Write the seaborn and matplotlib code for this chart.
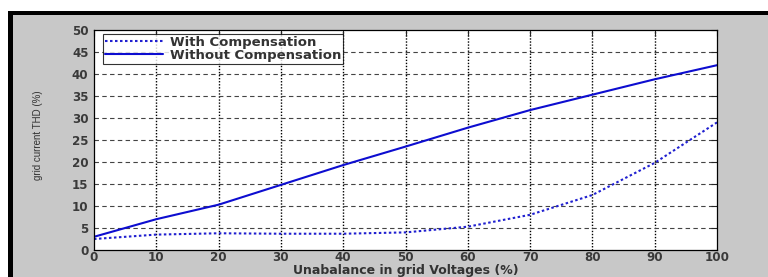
import matplotlib
matplotlib.use('Agg')
import matplotlib.pyplot as plt
import seaborn as sb
import pandas as pd
from matplotlib.patches import Rectangle

# values
unbalance = [0, 10, 20, 30, 40, 50, 60, 70, 80, 90, 100]
thd_with = [2.5, 3.5, 3.8, 3.7, 3.7, 4.0, 5.3, 8.0, 12.5, 19.8, 29.0]
thd_without = [3.0, 7.0, 10.3, 14.8, 19.3, 23.5, 27.8, 31.8, 35.3, 38.8, 42.0]
x_ticks = [0, 10, 20, 30, 40, 50, 60, 70, 80, 90, 100]
y_ticks = [0, 5, 10, 15, 20, 25, 30, 35, 40, 45, 50]

df = pd.DataFrame({'x': unbalance, 'with': thd_with, 'without': thd_without})

sb.set_style('white')
plt.rcParams['font.family'] = ['DejaVu Sans']

fig = plt.figure(figsize=(7.68, 2.77), dpi=100, facecolor='white')

# grey panel with black frame at top and left (behind the axes)
fig.patches.append(Rectangle((13/768, 0), 1, (277-15)/277, transform=fig.transFigure,
                             facecolor='#c8c8c8', edgecolor='none', zorder=-3))
fig.patches.append(Rectangle((8/768, (277-15)/277), 1, 4/277, transform=fig.transFigure,
                             facecolor='black', edgecolor='none', zorder=-2))
fig.patches.append(Rectangle((8/768, 0), 5/768, (277-11)/277, transform=fig.transFigure,
                             facecolor='black', edgecolor='none', zorder=-2))

ax = fig.add_axes([94/768, (277-250)/277, 623/768, 220/277])
ax.set_facecolor('white')

sb.lineplot(data=df, x='x', y='with', ax=ax, color='#2020d0', linestyle=(0, (1.2, 1.2)),
            linewidth=1.5, label='With Compensation')
sb.lineplot(data=df, x='x', y='without', ax=ax, color='#0d0dd0', linestyle='-', linewidth=1.5,
            label='Without Compensation')

ax.set_xlim(0, 100)
ax.set_ylim(0, 50)
ax.set_xticks(x_ticks)
ax.set_yticks(y_ticks)
for t in x_ticks[1:-1]:
    ax.axvline(t, color='black', linestyle=(0, (1, 1.2)), linewidth=1.0, zorder=0.5)
for t in y_ticks[1:-1]:
    ax.axhline(t, color='#444444', linestyle=(0, (4, 3)), linewidth=0.8, zorder=0.5)

ax.tick_params(direction='in', length=4, top=True, right=True, labelsize=8.6,
               labelcolor='#3a3a3a', width=0.8)
ax.tick_params(axis='x', pad=0.5)
ax.tick_params(axis='y', pad=4)
for lab in ax.get_xticklabels() + ax.get_yticklabels():
    lab.set_fontweight('bold')
for s in ax.spines.values():
    s.set_color('black')
    s.set_linewidth(0.9)

ax.set_xlabel('Unabalance in grid Voltages (%)', fontsize=9, fontweight='bold',
              color='#333333', labelpad=0)
ax.set_ylabel('grid current THD (%)', fontsize=7, color='#333333', family='Liberation Sans')
ax.yaxis.set_label_coords(-0.082, 0.52)

leg = ax.legend(loc='upper left', bbox_to_anchor=(0.0145, 0.982),
                prop={'size': 9.5, 'weight': 'bold'}, frameon=True,
                fancybox=False, edgecolor='black', borderpad=0.15, labelspacing=0.0,
                handlelength=4.4, handletextpad=0.5, borderaxespad=0)
leg.get_frame().set_linewidth(0.8)
for txt in leg.get_texts():
    txt.set_color('#333333')

fig.savefig('out.png', dpi=100, facecolor='white')
